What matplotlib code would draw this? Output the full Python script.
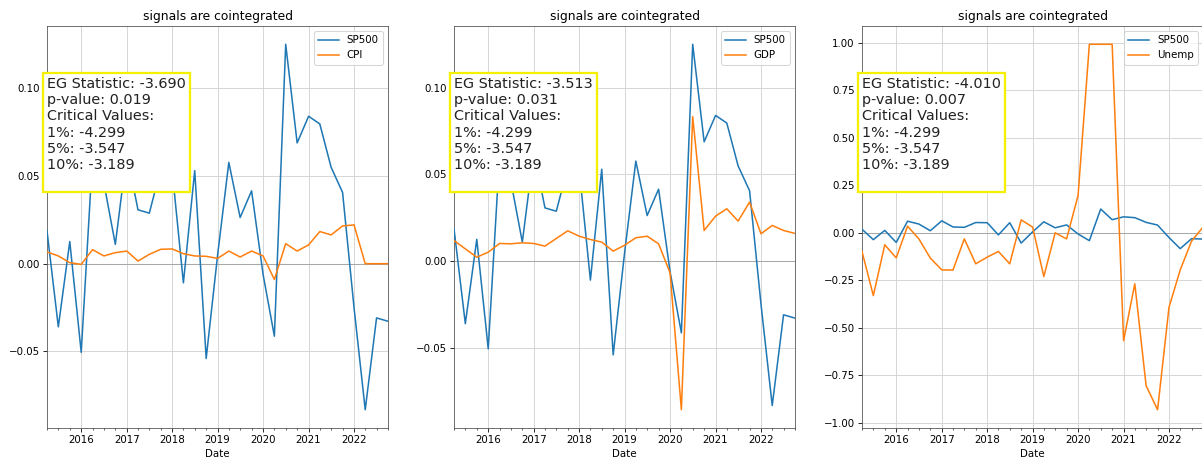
import matplotlib
matplotlib.use("Agg")
import matplotlib.pyplot as plt
import matplotlib.dates as mdates
import pandas as pd
import numpy as np

# ---- data (quarterly, 2015Q2 .. 2022Q4) ----
dates = pd.date_range("2015-04-01", periods=31, freq="QS")

sp500 = [0.0187, -0.036, 0.0126, -0.0505, 0.061, 0.046, 0.011, 0.063, 0.0307, 0.0288,
         0.054, 0.053, -0.0109, 0.053, -0.054, 0.005, 0.0577, 0.0263, 0.0415, -0.006,
         -0.0413, 0.125, 0.0688, 0.084, 0.0796, 0.0549, 0.0406, -0.025, -0.0832, -0.0309,
         -0.0328]

cpi = [0.0067, 0.0044, 0.0006, -0.0004, 0.008, 0.0044, 0.0063, 0.0072, 0.0015, 0.0053,
       0.0082, 0.0084, 0.0057, 0.0044, 0.0042, 0.003, 0.0072, 0.0038, 0.0072, 0.0044,
       -0.009, 0.0114, 0.0072, 0.0107, 0.0183, 0.0164, 0.0215, 0.0221, 0.0, 0.0, 0.0]

gdp = [0.0119, 0.0071, 0.0023, 0.0052, 0.0102, 0.010, 0.0106, 0.0102, 0.0087, 0.0131,
       0.0175, 0.0144, 0.0125, 0.011, 0.0058, 0.0092, 0.0135, 0.0144, 0.010, -0.0067,
       -0.0856, 0.0833, 0.0177, 0.026, 0.0302, 0.0231, 0.034, 0.0158, 0.0206, 0.0177,
       0.016]

unemp = [-0.098, -0.33, -0.063, -0.132, 0.035, -0.032, -0.133, -0.195, -0.196, -0.032,
         -0.163, -0.128, -0.098, -0.163, 0.068, 0.03, -0.23, 0.0, -0.032, 0.196,
         0.991, 0.991, 0.991, -0.567, -0.268, -0.804, -0.93, -0.391, -0.195, -0.044,
         0.03]

series_names = ["CPI", "GDP", "Unemp"]
series_values = [cpi, gdp, unemp]
eg_stats = ["-3.690", "-3.513", "-4.010"]
p_values = ["0.019", "0.031", "0.007"]
crit_1 = "-4.299"
crit_5 = "-3.547"
crit_10 = "-3.189"
title_text = "signals are cointegrated"

DPI = 74
fig = plt.figure(figsize=(1202 / DPI, 459 / DPI), dpi=DPI)

W, H = 1202, 459
lefts = [47, 454, 862]
ax_w = 341
top_px, bot_px = 26, 428

for k in range(3):
    ax = fig.add_axes([lefts[k] / W, 1 - bot_px / H, ax_w / W, (bot_px - top_px) / H])
    ax.grid(True, color="#d4d4d4", linewidth=0.9)
    ax.set_axisbelow(True)
    ax.axhline(0, color="#a8a8a8", linewidth=1.0, zorder=1)
    ax.plot(dates, sp500, color="#1f77b4", linewidth=1.5, label="SP500", zorder=3)
    ax.plot(dates, series_values[k], color="#ff7f0e", linewidth=1.5,
            label=series_names[k], zorder=3)
    ax.set_xlim(dates[0], dates[-1])
    ax.xaxis.set_major_locator(mdates.YearLocator())
    ax.xaxis.set_major_formatter(mdates.DateFormatter("%Y"))
    ax.xaxis.set_minor_locator(mdates.MonthLocator(bymonth=[1, 4, 7, 10]))
    ax.tick_params(axis="x", which="minor", length=2)
    ax.set_xlabel("Date", fontsize=10)
    ax.set_title(title_text, fontsize=12)
    ax.legend(loc="upper right", fontsize=10)
    for s in ax.spines.values():
        s.set_color("#555555")
    txt = (f"EG Statistic: {eg_stats[k]}\np-value: {p_values[k]}\nCritical Values:\n"
           f"1%: {crit_1}\n5%: {crit_5}\n10%: {crit_10}\n")
    ax.text(0.0, 0.873, txt, transform=ax.transAxes, fontsize=14, va="top", ha="left",
            color="#222222", zorder=5,
            bbox=dict(facecolor="white", edgecolor="#f5f000", linewidth=2.2))

fig.savefig("out.png", dpi=DPI)
